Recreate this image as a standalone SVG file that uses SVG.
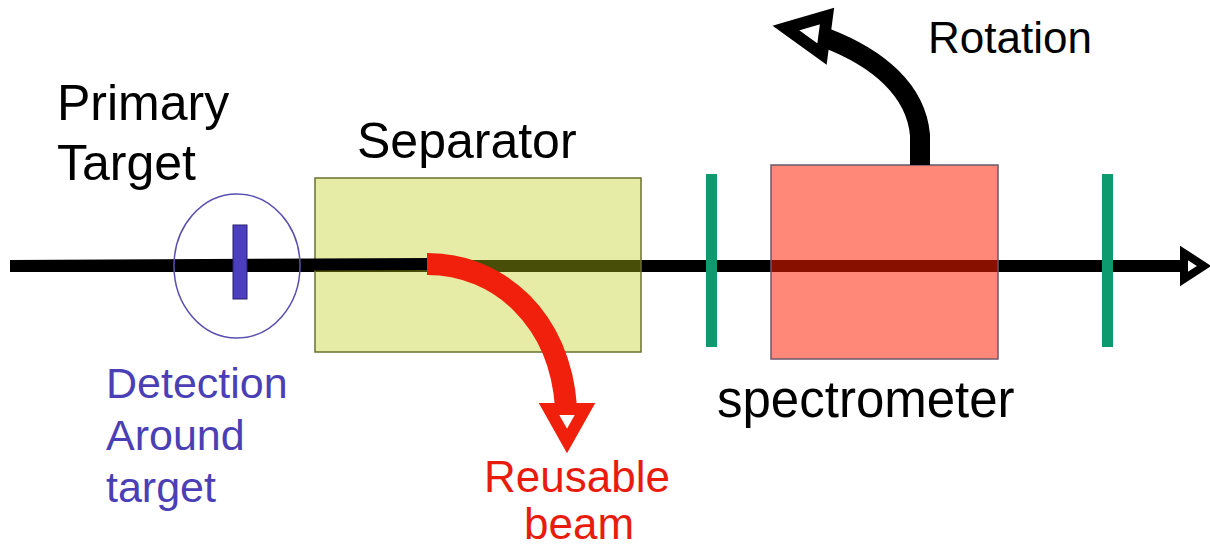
<svg xmlns="http://www.w3.org/2000/svg" width="1210" height="548" viewBox="0 0 1210 548">
<style>
  text { font-family: "Liberation Sans", Arial, sans-serif; }
  .blk { fill: #000000; }
  .blue { fill: #4b3fb5; }
  .red { fill: #e81c0c; }
  .bar { fill: #0d9a6e; }
</style>
<rect width="1210" height="548" fill="#ffffff"/>
<g id="connectors">
  <line x1="10" y1="266" x2="1182" y2="266" stroke="#000" stroke-width="12"/>
  <polygon points="1184,253 1184,279 1204,266" fill="#ffffff" stroke="#000" stroke-width="8" stroke-linejoin="miter"/>
</g>
<g id="separator">
  <rect x="315" y="178" width="326" height="174" fill="#becd14" fill-opacity="0.38" stroke="#6b7030" stroke-width="1.5"/>
  <text x="357" y="158" font-size="50" class="blk">Separator</text>
</g>
<g id="spectrometer">
  <rect x="771" y="165" width="227" height="194" fill="#ff1e00" fill-opacity="0.53" stroke="#6a5a6a" stroke-width="1.5"/>
  <text x="717" y="417" font-size="51" class="blk">spectrometer</text>
</g>
<g id="primary-beam">
  <line x1="10" y1="266" x2="432" y2="264" stroke="#000" stroke-width="12"/>
</g>
<g id="primary-target">
  <ellipse cx="237" cy="266" rx="63" ry="72" fill="none" stroke="#5a50b0" stroke-width="1.5"/>
  <rect x="233" y="225" width="14" height="74" fill="#4b3fc0" stroke="#2a2070" stroke-width="1"/>
  <text x="57" y="120" font-size="50" class="blk">Primary</text>
  <text x="57" y="180" font-size="50" class="blk">Target</text>
</g>
<g id="detection">
  <text x="106" y="398" font-size="43" class="blue">Detection</text>
  <text x="106" y="450" font-size="43" class="blue">Around</text>
  <text x="106" y="502" font-size="43" class="blue">target</text>
</g>
<g id="detector-1">
  <rect x="706" y="174" width="11" height="173" class="bar"/>
</g>
<g id="detector-2">
  <rect x="1102" y="174" width="11" height="173" class="bar"/>
</g>
<g id="reusable-beam">
  <path d="M427,264 C500,264 560,320 566,407" fill="none" stroke="#f0200c" stroke-width="22"/>
  <polygon points="549,409 585,409 567,441" fill="#ffffff" stroke="#f0200c" stroke-width="12" stroke-linejoin="miter"/>
  <text x="484" y="492" font-size="44" class="red">Reusable</text>
  <text x="524" y="539" font-size="44" class="red">beam</text>
</g>
<g id="rotation">
  <path d="M920,165 L920,135 C916,90 878,58 826,38" fill="none" stroke="#000" stroke-width="20"/>
  <polygon points="786,28 827,16 822,54" fill="#ffffff" stroke="#000" stroke-width="12" stroke-linejoin="miter"/>
  <text x="928" y="53" font-size="44" class="blk">Rotation</text>
</g>
</svg>
